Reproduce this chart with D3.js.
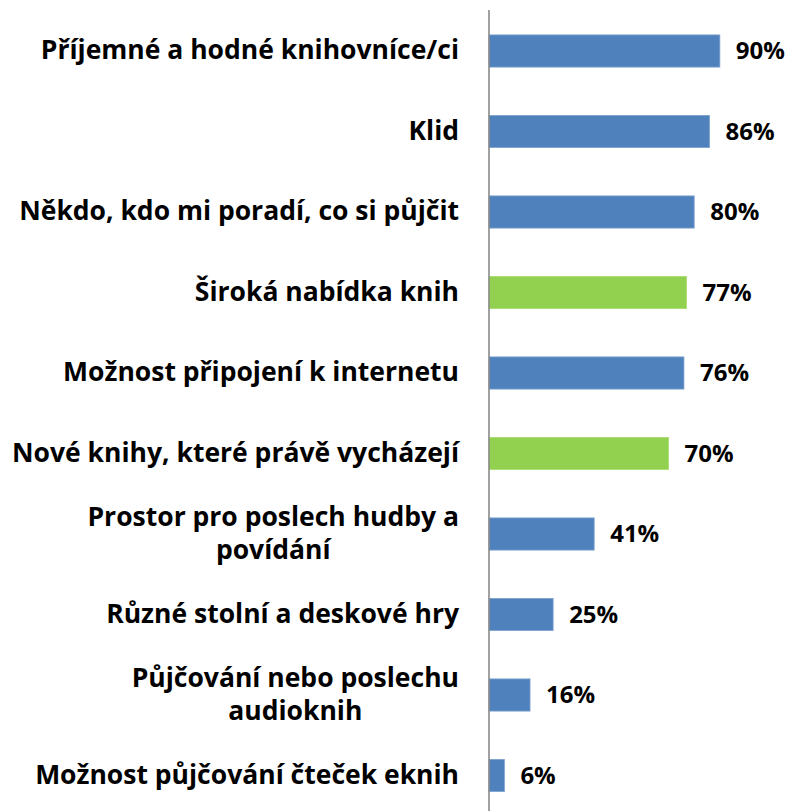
<!DOCTYPE html>
<html>
<head>
<meta charset="utf-8">
<script src="https://cdn.jsdelivr.net/npm/d3@7"></script>
<style>
  html, body { margin: 0; padding: 0; background: #fff; }
  svg { display: block; }
  text { font-family: "Open Sans", Lato, sans-serif; font-weight: bold; fill: #000; }
</style>
</head>
<body>
<svg id="chart" width="790" height="811"></svg>
<script>
const categories = [
  "Příjemné a hodné knihovníce/ci",
  "Klid",
  "Někdo, kdo mi poradí, co si půjčit",
  "Široká nabídka knih",
  "Možnost připojení k internetu",
  "Nové knihy, které právě vycházejí",
  "Prostor pro poslech hudby a\npovídání",
  "Různé stolní a deskové hry",
  "Půjčování nebo poslechu\naudioknih",
  "Možnost půjčování čteček eknih"
];
const values = [90, 86, 80, 77, 76, 70, 41, 25, 16, 6];
const highlighted = [false, false, false, true, false, true, false, false, false, false];
const valueLabels = ["90%", "86%", "80%", "77%", "76%", "70%", "41%", "25%", "16%", "6%"];

const svg = d3.select("#chart");
const axisX = 489;
const catFontSize = 26.5;
const valFontSize = 24;

const x = d3.scaleLinear().domain([0, 100]).range([axisX, axisX + 256.5]);
const y = d3.scaleBand().domain(categories).range([10.75, 815.75]).paddingInner(0.6).paddingOuter(0.3);

// bars
svg.append("g").selectAll("rect").data(categories).join("rect")
  .attr("x", x(0))
  .attr("y", d => y(d))
  .attr("width", (d, i) => x(values[i]) - x(0))
  .attr("height", y.bandwidth())
  .attr("fill", (d, i) => highlighted[i] ? "#92D050" : "#4F81BD")
  .attr("stroke", (d, i) => highlighted[i] ? "#A9DC6E" : "#7FA3D0")
  .attr("stroke-width", 0.8);

// axis
const axis = d3.axisLeft(y).tickSize(0).tickPadding(30).tickFormat("");
const gAxis = svg.append("g").attr("transform", `translate(${axisX},0)`).call(axis);
gAxis.select(".domain").attr("stroke", "#8a8a8a").attr("stroke-width", 1.6).attr("d", "M0,10V811");

// category labels (centered multi-line blocks, right aligned to axis)
const lineH = 33;
categories.forEach((c, i) => {
  const lines = c.split("\n");
  const cy = y(c) + y.bandwidth() / 2;
  const t = svg.append("text")
    .attr("font-size", catFontSize)
    .attr("text-anchor", "middle");
  lines.forEach((l, k) => {
    t.append("tspan").text(l)
      .attr("y", cy + (k - (lines.length - 1) / 2) * lineH - 1)
      .attr("dy", "0.35em");
  });
  let maxW = 0;
  t.selectAll("tspan").each(function() { maxW = Math.max(maxW, this.getComputedTextLength()); });
  t.selectAll("tspan").attr("x", axisX - 30 - maxW / 2);
});

// value labels
svg.append("g").selectAll("text").data(categories).join("text")
  .attr("x", (d, i) => x(values[i]) + 16)
  .attr("y", d => y(d) + y.bandwidth() / 2)
  .attr("dy", "0.35em")
  .attr("font-size", valFontSize)
  .text((d, i) => valueLabels[i]);
</script>
</body>
</html>
